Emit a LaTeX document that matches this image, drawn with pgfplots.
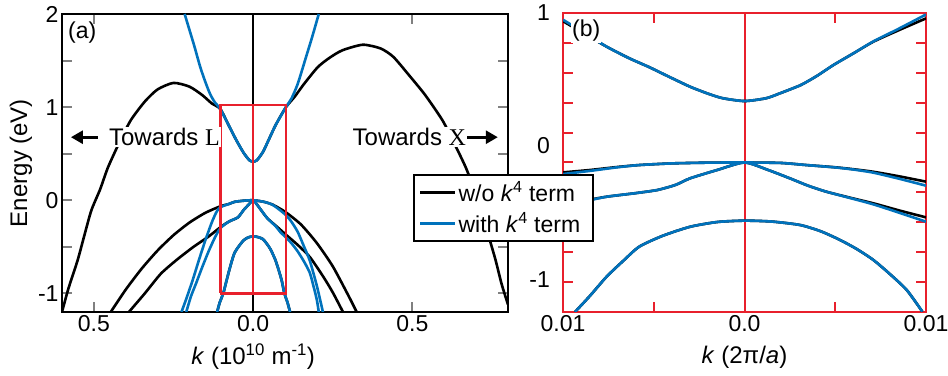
\documentclass[border=0pt]{standalone}
\usepackage{fontspec}
\setmainfont{Liberation Sans}
\newfontfamily\serifletter{Liberation Serif}
\usepackage{pgfplots}
\pgfplotsset{compat=1.18}
\usetikzlibrary{arrows.meta}

\definecolor{bandblue}{RGB}{0,114,188}
\definecolor{boxred}{RGB}{232,32,44}

\newcommand\fs{\fontsize{23bp}{27bp}\selectfont}
\newcommand\ls{\fontsize{24bp}{28bp}\selectfont}

\pgfplotsset{
  panel/.style={
    scale only axis,
    clip mode=individual,
    anchor=south west,
    tick align=inside,
    major tick length=10bp,
    minor tick length=10bp,
    every tick/.append style={line width=2bp},
    every minor tick/.append style={line width=2bp},
    axis line style={line width=2bp},
    tick label style={font=\fs},
    label style={font=\ls},
    scaled x ticks=false,
    scaled y ticks=false,
  },
  blackband/.style={black, line width=2.6bp, smooth, tension=0.4},
  blueband/.style={bandblue, line width=2.6bp, smooth, tension=0.4},
}

\begin{document}
\begin{tikzpicture}
\useasboundingbox (0,0) rectangle (948bp,376bp);

% ---------------- panel (a): full dispersion ----------------
\begin{axis}[panel,
  at={(62bp,64bp)}, width=446bp, height=298bp,
  xmin=-0.6, xmax=0.8, ymin=-1.2, ymax=2,
  xtick={-0.5,0,0.5}, xticklabels={0.5,0.0,0.5},
  ytick={-1,0,1,2}, yticklabels={-1,0,1,2},
  minor ytick={-0.5,0.5,1.5},
  xlabel={\textit{k} (10\textsuperscript{10} m\textsuperscript{-1})},
  ylabel={Energy (eV)},
  xlabel style={at={(axis description cs:0.4286,0)}, anchor=center, yshift=-45bp},
  ylabel style={at={(axis description cs:-0.092,0.5)}, anchor=center},
]
% Gamma point
\addplot[black, line width=2bp] coordinates {(0,-1.2) (0,2)};

% bands without the k^4 term
\addplot[blackband] coordinates {
 (-0.600,-1.20) (-0.580,-0.95) (-0.551,-0.645) (-0.530,-0.38) (-0.508,-0.11)
 (-0.480,0.12) (-0.456,0.35) (-0.420,0.62) (-0.384,0.86) (-0.340,1.06)
 (-0.300,1.19) (-0.250,1.26) (-0.200,1.22) (-0.160,1.13) (-0.130,1.04)
 (-0.103,0.98) (-0.076,0.80) (-0.052,0.64) (-0.030,0.51) (-0.012,0.43)
 (0,0.415) (0.012,0.43) (0.031,0.52) (0.049,0.65) (0.071,0.81) (0.103,1.00)
 (0.130,1.11) (0.160,1.25) (0.203,1.43) (0.240,1.53) (0.280,1.61) (0.344,1.67)
 (0.400,1.63) (0.440,1.54) (0.490,1.34) (0.540,1.13) (0.594,0.86) (0.630,0.62)
 (0.669,0.34) (0.700,0.05) (0.730,-0.28) (0.760,-0.63) (0.780,-0.90) (0.800,-1.12)};
\addplot[blackband] coordinates {
 (-0.447,-1.20) (-0.400,-0.96) (-0.350,-0.735) (-0.300,-0.54) (-0.250,-0.375)
 (-0.200,-0.24) (-0.150,-0.135) (-0.103,-0.065) (-0.076,-0.04) (-0.058,-0.017)
 (-0.030,-0.005) (0,0) (0.034,-0.017) (0.060,-0.045) (0.080,-0.082) (0.103,-0.13)
 (0.150,-0.26) (0.200,-0.46) (0.250,-0.71) (0.300,-1.03) (0.325,-1.20)};
\addplot[blackband] coordinates {
 (-0.390,-1.20) (-0.340,-1.00) (-0.290,-0.79) (-0.240,-0.64) (-0.187,-0.50)
 (-0.140,-0.39) (-0.103,-0.29) (-0.076,-0.229) (-0.048,-0.184) (-0.030,-0.106)
 (-0.015,-0.05) (0,0) (0.013,-0.05) (0.025,-0.106) (0.045,-0.195) (0.071,-0.273)
 (0.103,-0.37) (0.140,-0.48) (0.178,-0.61) (0.220,-0.82) (0.250,-0.99) (0.282,-1.20)};
\addplot[blackband] coordinates {
 (-0.113,-1.20) (-0.105,-1.10) (-0.093,-0.99) (-0.076,-0.764) (-0.058,-0.563)
 (-0.030,-0.43) (-0.012,-0.395) (0,-0.389) (0.012,-0.393) (0.031,-0.418)
 (0.053,-0.518) (0.071,-0.652) (0.089,-0.853) (0.098,-0.998) (0.108,-1.10) (0.116,-1.20)};

% bands with the k^4 term
\addplot[blueband] coordinates {
 (-0.215,2.00) (-0.200,1.83) (-0.185,1.66) (-0.166,1.43) (-0.150,1.27)
 (-0.135,1.14) (-0.120,1.05) (-0.103,0.98) (-0.076,0.80) (-0.052,0.64)
 (-0.030,0.51) (-0.012,0.43) (0,0.415) (0.012,0.43) (0.031,0.52) (0.049,0.65)
 (0.071,0.81) (0.103,1.00) (0.120,1.09) (0.140,1.25) (0.168,1.56) (0.185,1.75) (0.206,2.00)};
\addplot[blueband] coordinates {
 (-0.225,-1.20) (-0.210,-1.06) (-0.190,-0.86) (-0.170,-0.64) (-0.150,-0.43)
 (-0.130,-0.24) (-0.115,-0.125) (-0.103,-0.075) (-0.076,-0.04) (-0.058,-0.017)
 (-0.030,-0.005) (0,0) (0.034,-0.017) (0.060,-0.047) (0.080,-0.095) (0.103,-0.16)
 (0.120,-0.23) (0.140,-0.34) (0.160,-0.50) (0.178,-0.65) (0.200,-0.92) (0.219,-1.20)};
\addplot[blueband] coordinates {
 (-0.210,-1.20) (-0.195,-1.03) (-0.180,-0.90) (-0.160,-0.72) (-0.140,-0.55)
 (-0.120,-0.40) (-0.103,-0.30) (-0.076,-0.229) (-0.048,-0.184) (-0.030,-0.106)
 (-0.015,-0.05) (0,0) (0.013,-0.05) (0.025,-0.106) (0.045,-0.195) (0.071,-0.28)
 (0.085,-0.34) (0.103,-0.40) (0.120,-0.46) (0.140,-0.55) (0.160,-0.66)
 (0.178,-0.78) (0.190,-0.93) (0.200,-1.07) (0.206,-1.20)};
\addplot[blueband] coordinates {
 (-0.113,-1.20) (-0.105,-1.10) (-0.093,-0.99) (-0.076,-0.764) (-0.058,-0.563)
 (-0.030,-0.43) (-0.012,-0.395) (0,-0.389) (0.012,-0.393) (0.031,-0.418)
 (0.053,-0.518) (0.071,-0.652) (0.089,-0.853) (0.098,-0.998) (0.108,-1.10) (0.116,-1.20)};

% zoomed region shown in (b)
\addplot[boxred, line width=2.4bp, line join=miter] coordinates {
 (-0.103,-1.0) (0.103,-1.0) (0.103,1.02) (-0.103,1.02) (-0.103,-1.0)};
\addplot[boxred, line width=2.4bp] coordinates {(0,-1.0) (0,1.02)};

\node[font=\fontsize{24bp}{28bp}\selectfont, fill=white, inner sep=1bp, anchor=west]
  at (axis cs:-0.456,0.677) {Towards {\serifletter L}};
\draw[line width=2.8bp, -{Triangle[length=12bp,width=13bp]}]
  (axis cs:-0.487,0.677) -- (axis cs:-0.572,0.677);
\node[font=\fontsize{24bp}{28bp}\selectfont, fill=white, inner sep=1bp, anchor=east]
  at (axis cs:0.672,0.677) {Towards {\serifletter X}};
\draw[line width=2.8bp, -{Triangle[length=12bp,width=13bp]}]
  (axis cs:0.672,0.677) -- (axis cs:0.768,0.677);
\node[font=\fs, inner sep=1bp, anchor=north west]
  at (axis description cs:0,1) [xshift=5bp, yshift=-7bp] {(a)};
\end{axis}

% ---------------- panel (b): zoom near Gamma ----------------
\begin{axis}[panel,
  at={(563bp,64bp)}, width=363bp, height=299bp,
  xmin=-0.01, xmax=0.01, ymin=-1, ymax=1,
  axis line style={boxred},
  every tick/.append style={boxred},
  every minor tick/.append style={boxred},
  xtick={-0.01,0,0.01}, xticklabels={0.01,0.0,0.01},
  minor xtick={-0.005,0.005},
  ytick={-0.8,-0.6,-0.4,-0.2,0,0.2,0.4,0.6,0.8}, yticklabels={},
  xlabel={\textit{k} (2π/\textit{a})},
  xlabel style={at={(axis description cs:0.5,0)}, anchor=center, yshift=-45bp},
  legend style={at={(-0.413,0.4615)}, anchor=north west, draw=black,
    line width=1.8bp, fill=white, font=\fs, inner xsep=5bp, inner ysep=5bp,
    row sep=5bp},
  legend cell align=left,
  legend image code/.code={\draw[#1] (0bp,0bp) -- (35bp,0bp);},
]
\addplot[boxred, line width=2bp, forget plot] coordinates {(0,-1) (0,1)};

\addplot[blackband] coordinates {
 (-0.0100,0.945) (-0.0088,0.86) (-0.0076,0.775) (-0.0064,0.70) (-0.0052,0.635)
 (-0.0041,0.57) (-0.0030,0.507) (-0.0020,0.46) (-0.0012,0.43) (0,0.411)
 (0.0012,0.43) (0.0020,0.465) (0.0031,0.518) (0.0040,0.58) (0.0049,0.652)
 (0.0060,0.73) (0.0071,0.808) (0.0085,0.885) (0.0100,0.964)};
\addlegendentry{w/o \textit{k}\textsuperscript{4} term\hspace*{6bp}}
\addplot[blackband, forget plot] coordinates {
 (-0.0100,-0.066) (-0.0085,-0.05) (-0.0070,-0.03) (-0.0058,-0.017) (-0.0040,-0.006)
 (-0.0020,-0.001) (0,0) (0.0020,-0.003) (0.0034,-0.017) (0.0050,-0.032)
 (0.0060,-0.045) (0.0071,-0.062) (0.0085,-0.092) (0.0100,-0.128)};
\addplot[blackband, forget plot] coordinates {
 (-0.0100,-0.284) (-0.0088,-0.255) (-0.0076,-0.229) (-0.0060,-0.205) (-0.0048,-0.184)
 (-0.0038,-0.15) (-0.0030,-0.106) (-0.0015,-0.05) (0,0) (0.0013,-0.05)
 (0.0025,-0.106) (0.0035,-0.155) (0.0045,-0.195) (0.0058,-0.235) (0.0071,-0.273)
 (0.0085,-0.32) (0.0100,-0.367)};
\addplot[blackband, forget plot] coordinates {
 (-0.00934,-1.0) (-0.0085,-0.89) (-0.0076,-0.764) (-0.0067,-0.66) (-0.0058,-0.563)
 (-0.0045,-0.49) (-0.0030,-0.43) (-0.0015,-0.398) (0,-0.389) (0.0015,-0.395)
 (0.00306,-0.418) (0.0042,-0.46) (0.00526,-0.518) (0.0062,-0.58) (0.0071,-0.652)
 (0.0080,-0.745) (0.00894,-0.853) (0.0098,-0.998)};

\addplot[blueband] coordinates {
 (-0.0100,0.955) (-0.0088,0.865) (-0.0076,0.775) (-0.0064,0.70) (-0.0052,0.635)
 (-0.0041,0.57) (-0.0030,0.507) (-0.0020,0.46) (-0.0012,0.43) (0,0.411)
 (0.0012,0.43) (0.0020,0.465) (0.0031,0.518) (0.0040,0.58) (0.0049,0.652)
 (0.0060,0.73) (0.0071,0.81) (0.0085,0.895) (0.0100,0.99)};
\addlegendentry{with \textit{k}\textsuperscript{4} term\hspace*{6bp}}
\addplot[blueband, forget plot] coordinates {
 (-0.0100,-0.077) (-0.0085,-0.056) (-0.0070,-0.032) (-0.0058,-0.017) (-0.0040,-0.006)
 (-0.0020,-0.001) (0,0) (0.0020,-0.003) (0.0034,-0.017) (0.0050,-0.033)
 (0.0060,-0.047) (0.0071,-0.068) (0.0085,-0.108) (0.0100,-0.155)};
\addplot[blueband, forget plot] coordinates {
 (-0.0100,-0.294) (-0.0088,-0.26) (-0.0076,-0.229) (-0.0060,-0.205) (-0.0048,-0.184)
 (-0.0038,-0.15) (-0.0030,-0.106) (-0.0015,-0.05) (0,0) (0.0013,-0.05)
 (0.0025,-0.106) (0.0035,-0.155) (0.0045,-0.195) (0.0058,-0.237) (0.0071,-0.28)
 (0.0085,-0.335) (0.0100,-0.396)};
\addplot[blueband, forget plot] coordinates {
 (-0.00934,-1.0) (-0.0085,-0.89) (-0.0076,-0.764) (-0.0067,-0.66) (-0.0058,-0.563)
 (-0.0045,-0.49) (-0.0030,-0.43) (-0.0015,-0.398) (0,-0.389) (0.0015,-0.395)
 (0.00306,-0.418) (0.0042,-0.46) (0.00526,-0.518) (0.0062,-0.58) (0.0071,-0.652)
 (0.0080,-0.745) (0.00894,-0.853) (0.0098,-0.998)};

\node[font=\fs, fill=white, inner sep=1bp, anchor=north west]
  at (axis description cs:0,1) [xshift=8bp, yshift=-6bp] {(b)};
\node[font=\fs, inner sep=0pt, anchor=east] at (axis cs:-0.01,1.0) [xshift=-13bp] {1};
\node[font=\fs, inner sep=0pt, anchor=east] at (axis cs:-0.01,0.11) [xshift=-13bp] {0};
\node[font=\fs, inner sep=0pt, anchor=east] at (axis cs:-0.01,-0.78) [xshift=-13bp] {-1};
\end{axis}
\end{tikzpicture}
\end{document}
